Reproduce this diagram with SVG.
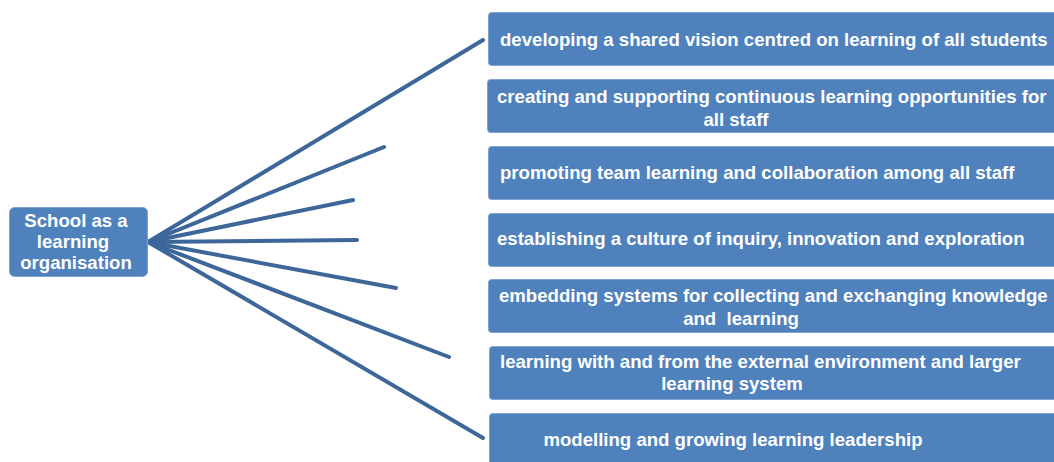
<svg xmlns="http://www.w3.org/2000/svg" width="1054" height="462" viewBox="0 0 1054 462">
<style>
.box{fill:#4F81BD;stroke:#7FA3D3;stroke-width:1}
.t{font-family:"Liberation Sans",Arial,sans-serif;font-weight:bold;font-size:18.6px;fill:#FFFFFF}
.c{stroke:#3D6699;stroke-width:4;stroke-linecap:round;fill:none}
</style>
<rect width="1054" height="462" fill="#FFFFFF"/>
<g id="connectors">
<line class="c" x1="148" y1="242" x2="483" y2="40"/>
<line class="c" x1="148" y1="242" x2="384" y2="147"/>
<line class="c" x1="148" y1="242" x2="353" y2="200"/>
<line class="c" x1="148" y1="242" x2="357" y2="240"/>
<line class="c" x1="148" y1="242" x2="396" y2="288"/>
<line class="c" x1="148" y1="242" x2="449" y2="357"/>
<line class="c" x1="148" y1="242" x2="483" y2="438"/>
</g>
<g id="root">
<rect class="box" x="9.5" y="207.5" width="138" height="69" rx="5"/>
<text class="t" text-anchor="middle"><tspan x="76" y="227">School as a</tspan><tspan x="73" y="248">learning</tspan><tspan x="76" y="269">organisation</tspan></text>
</g>
<g id="n1">
<rect class="box" x="488.5" y="12.5" width="568" height="53" rx="3"/>
<text class="t" x="500" y="46">developing a shared vision centred on learning of all students</text>
</g>
<g id="n2">
<rect class="box" x="487.5" y="79.5" width="569" height="53" rx="3"/>
<text class="t"><tspan x="497" y="103">creating and supporting continuous learning opportunities for</tspan><tspan x="736" y="126" text-anchor="middle">all staff</tspan></text>
</g>
<g id="n3">
<rect class="box" x="488.5" y="146.5" width="568" height="53" rx="3"/>
<text class="t" x="500" y="179">promoting team learning and collaboration among all staff</text>
</g>
<g id="n4">
<rect class="box" x="488.5" y="213.5" width="568" height="53" rx="3"/>
<text class="t" x="497" y="245">establishing a culture of inquiry, innovation and exploration</text>
</g>
<g id="n5">
<rect class="box" x="488.5" y="279.5" width="568" height="53" rx="3"/>
<text class="t"><tspan x="499" y="302">embedding systems for collecting and exchanging knowledge</tspan><tspan x="741" y="325" text-anchor="middle" xml:space="preserve">and  learning</tspan></text>
</g>
<g id="n6">
<rect class="box" x="489.5" y="346.5" width="567" height="53" rx="3"/>
<text class="t"><tspan x="500" y="368">learning with and from the external environment and larger</tspan><tspan x="732" y="390" text-anchor="middle">learning system</tspan></text>
</g>
<g id="n7">
<rect class="box" x="489.5" y="413.5" width="567" height="53" rx="3"/>
<text class="t" x="733" y="446" text-anchor="middle">modelling and growing learning leadership</text>
</g>
</svg>
